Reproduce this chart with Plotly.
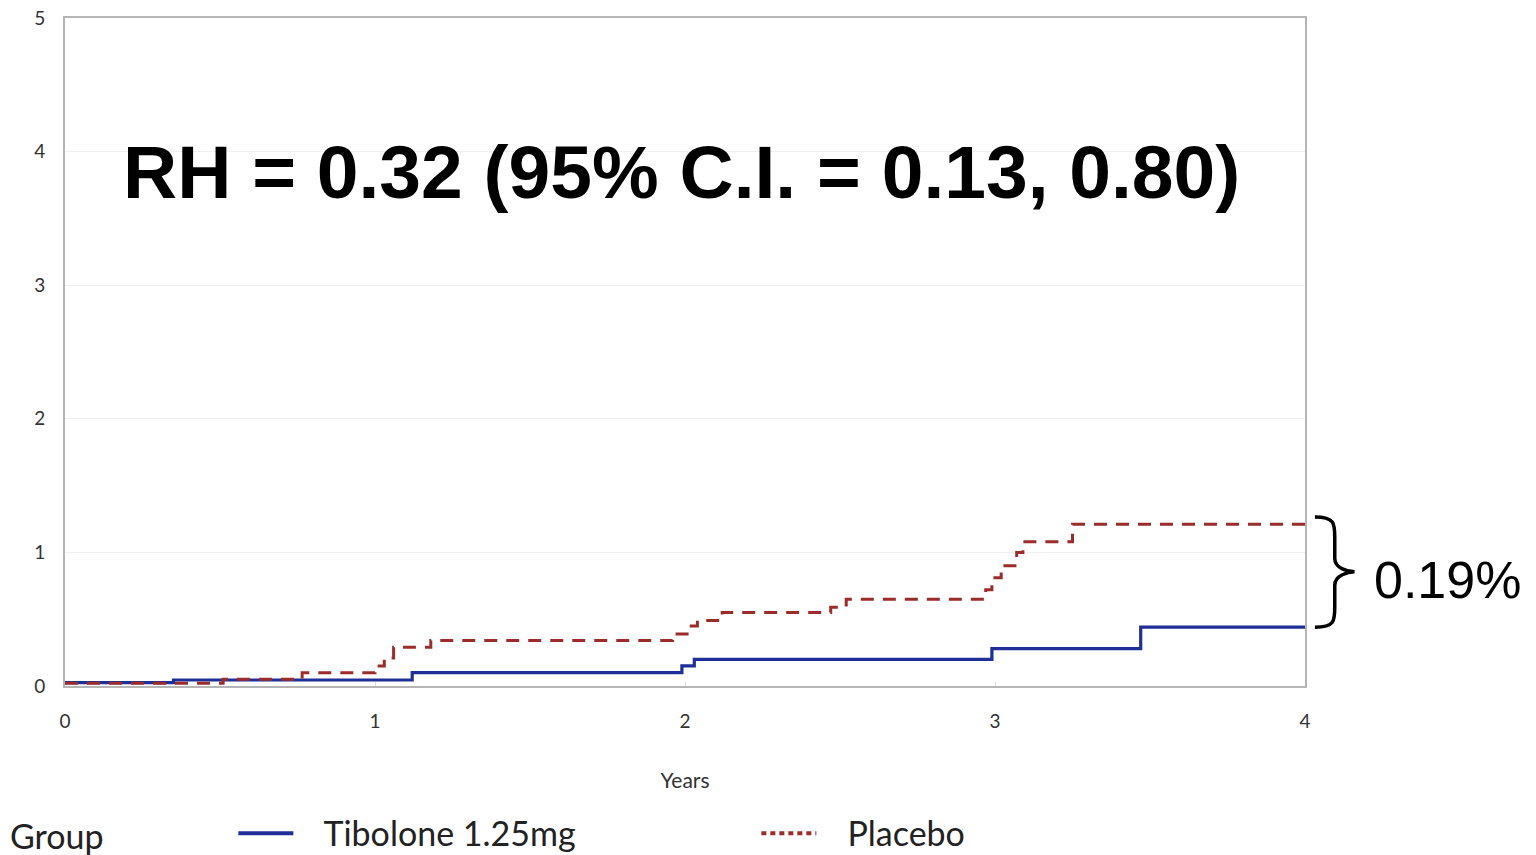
import plotly.graph_objects as go

# Data
tib_years = [0, 0.35, 1.12, 1.99, 2.03, 2.99, 3.47, 4.0]
tib_vals = [0.025, 0.045, 0.10, 0.15, 0.20, 0.28, 0.44, 0.44]

plc_years = [0, 0.51, 0.765, 1.00, 1.03, 1.06, 1.18, 1.96, 2.02, 2.04, 2.12,
             2.47, 2.52, 2.97, 2.99, 3.02, 3.07, 3.09, 3.25, 4.0]
plc_vals = [0.02, 0.05, 0.10, 0.15, 0.21, 0.29, 0.34, 0.39, 0.45, 0.49, 0.55,
            0.59, 0.65, 0.72, 0.81, 0.90, 1.00, 1.08, 1.21, 1.21]

x_ticks = [0, 1, 2, 3, 4]
y_ticks = [0, 1, 2, 3, 4, 5]

group_names = ["Tibolone 1.25mg", "Placebo"]
title_text = "RH = 0.32 (95% C.I. = 0.13, 0.80)"
diff_text = "0.19%"

BLUE = "#1f2f98"
RED = "#9a2d2b"
pad = "\u00a0" * 3

fig = go.Figure()
fig.add_trace(go.Scatter(x=tib_years, y=tib_vals, mode="lines", line_shape="hv",
                         name=group_names[0], showlegend=False,
                         line=dict(color=BLUE, width=3.2)))
fig.add_trace(go.Scatter(x=plc_years, y=plc_vals, mode="lines", line_shape="hv",
                         name=group_names[1], showlegend=False,
                         line=dict(color=RED, width=3, dash="13px,9px")))
# legend entries
fig.add_trace(go.Scatter(x=[None], y=[None], mode="lines", name=pad + group_names[0],
                         line=dict(color=BLUE, width=4)))
fig.add_trace(go.Scatter(x=[None], y=[None], mode="lines", name=pad + group_names[1],
                         line=dict(color=RED, width=4, dash="5px,4px")))

fig.update_layout(
    width=1536, height=855,
    margin=dict(l=65, r=231, t=18, b=169, autoexpand=False),
    plot_bgcolor="white", paper_bgcolor="white",
    font=dict(family="Lato", color="#333333"),
    showlegend=True,
    legend=dict(orientation="h", x=-0.046, xanchor="left", y=-0.221, yanchor="middle",
                font=dict(size=34, family="Lato", color="#222222"),
                title=dict(text="Group" + "\u00a0" * 14, font=dict(size=34, family="Lato", color="#222222"), side="left"),
                entrywidth=453, entrywidthmode="pixels",
                itemwidth=55, bgcolor="rgba(0,0,0,0)"),
    xaxis=dict(range=[0, 4], tickvals=x_ticks, ticktext=[str(v) for v in x_ticks],
               showgrid=False, zeroline=False, showline=True, linecolor="#b5b5b5", linewidth=2,
               mirror=True, ticks="inside", ticklen=4, tickcolor="#dddddd",
               tickfont=dict(size=19, family="Lato", color="#333333"),
               ticklabelstandoff=17,
               title=dict(text="Years", font=dict(size=21, family="Lato", color="#333333"), standoff=43)),
    yaxis=dict(range=[0, 5], tickvals=y_ticks, ticktext=[str(v) for v in y_ticks],
               showgrid=True, gridcolor="#f0f0f0", gridwidth=1, zeroline=False,
               showline=True, linecolor="#b5b5b5", linewidth=2, mirror=True,
               ticks="", tickfont=dict(size=19, family="Lato", color="#333333"),
               ticklabelstandoff=14),
)

fig.add_annotation(text="<b>" + title_text + "</b>", xref="paper", yref="paper",
                   x=0.497, y=0.770, xanchor="center", yanchor="middle", showarrow=False,
                   font=dict(size=75, family="Liberation Sans", color="black"))
fig.add_annotation(text=diff_text, xref="paper", yref="paper",
                   x=1.115, y=0.159, xanchor="center", yanchor="middle", showarrow=False,
                   font=dict(size=52, family="Liberation Sans", color="black"))

# curly brace
x0, xm, x1 = 1.008, 1.024, 1.040
ytop, ymid, ybot = 0.253, 0.171, 0.088
path = (f"M {x0},{ytop} C {xm},{ytop} {xm},{ytop-0.01} {xm},{ytop-0.03} "
        f"L {xm},{ymid+0.02} C {xm},{ymid+0.005} {x1-0.005},{ymid} {x1},{ymid} "
        f"C {x1-0.005},{ymid} {xm},{ymid-0.005} {xm},{ymid-0.02} "
        f"L {xm},{ybot+0.03} C {xm},{ybot+0.01} {xm},{ybot} {x0},{ybot}")
fig.add_shape(type="path", xref="paper", yref="paper", path=path,
              line=dict(color="black", width=3.5))

fig.write_html("out.html")
